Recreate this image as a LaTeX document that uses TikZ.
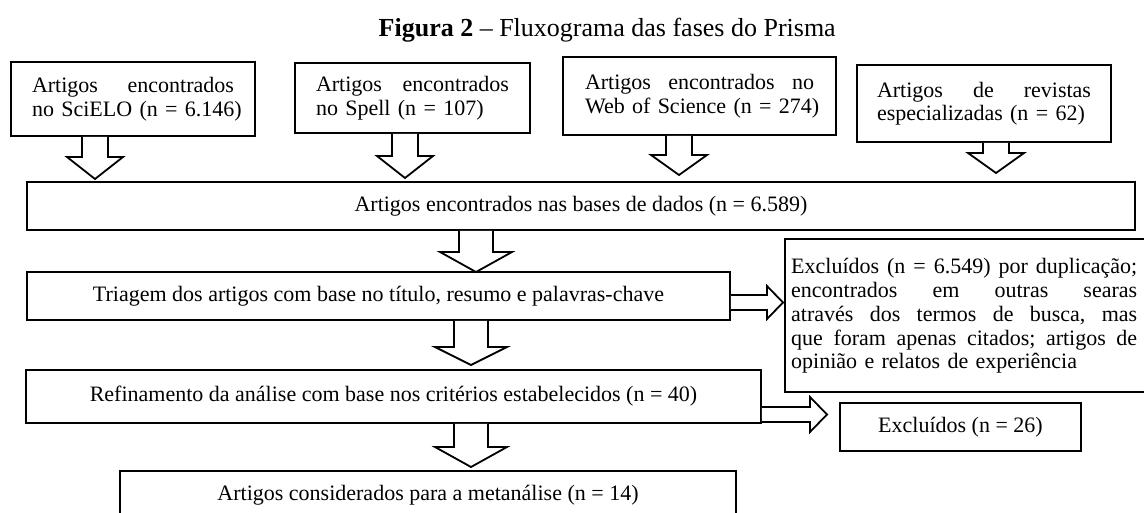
\documentclass[tikz,border=0pt]{standalone}
\usepackage{fontspec}
\setmainfont{Liberation Serif}
\tikzset{
  bx/.style={draw, line width=1.8pt, inner sep=0pt, font=\fontsize{22}{23.5}\selectfont},
  txt/.style={inner sep=0pt, font=\fontsize{22}{23.8}\selectfont},
  barrow/.style={draw, line width=1.8pt, fill=white, line join=miter},
}
\begin{document}
\begin{tikzpicture}[x=1pt,y=-1pt]
\useasboundingbox (0,0) rectangle (1144,513);
\clip (0,0) rectangle (1144,513);
% title
\node[inner sep=0pt, font=\fontsize{26}{29}\selectfont, anchor=base east] (title) at (836,37)
  {\textbf{Figura 2} – Fluxograma das fases do Prisma};
% first row
\node[bx, minimum width=244pt, minimum height=74pt, text width=202pt] (b1) at (133,99)
  {Artigos\hfill encontrados\\\mbox{no SciELO (n = 6.146)}};
\node[bx, minimum width=235pt, minimum height=70pt, text width=193pt] (b2) at (412.5,98)
  {Artigos\hfill encontrados\\\mbox{no Spell (n = 107)}};
\node[bx, minimum width=273pt, minimum height=78pt, text width=229pt] (b3) at (699.5,96)
  {Artigos\hfill encontrados\hfill no\\\mbox{Web of Science (n = 274)}};
\node[bx, minimum width=254pt, minimum height=77pt, text width=214pt] (b4) at (984,103.5)
  {Artigos\hfill de\hfill revistas\\\mbox{especializadas (n = 62)}};
% middle boxes
\node[bx, minimum width=1108pt, minimum height=48pt] (big) at (581,206)
  {Artigos encontrados nas bases de dados (n = 6.589)};
\node[bx, minimum width=703pt, minimum height=48pt] (tri) at (378.5,296)
  {Triagem dos artigos com base no título, resumo e palavras-chave};
\node[bx, minimum width=375pt, minimum height=153pt] (ex) at (972.5,315.5) {};
\node[txt, anchor=west, text width=346pt] (ext) at (791,316)
  {Excluídos\hfill (n\hfill =\hfill 6.549)\hfill por\hfill duplicação;\\
   encontrados\hfill em\hfill outras\hfill searas\\
   através\hfill dos\hfill termos\hfill de\hfill busca,\hfill mas\\
   que\hfill foram\hfill apenas\hfill citados;\hfill artigos\hfill de\\
   \mbox{opinião e relatos de experiência}};
\node[bx, minimum width=735pt, minimum height=53pt] (ref) at (393.5,396.5)
  {Refinamento da análise com base nos critérios estabelecidos (n = 40)};
\node[bx, minimum width=241pt, minimum height=48pt] (ex26) at (960.5,427)
  {Excluídos (n = 26)};
\node[bx, minimum width=616pt, minimum height=48pt] (fin) at (428,495)
  {Artigos considerados para a metanálise (n = 14)};
% block arrows, first row
\draw[barrow] (82,0 |- b1.south) -- (82,157) -- (67,157) -- (95,179) -- (123,157) -- (108,157) -- (108,0 |- b1.south);
\draw[barrow] (392,0 |- b2.south) -- (392,156) -- (377,156) -- (405,178) -- (433,156) -- (418,156) -- (418,0 |- b2.south);
\draw[barrow] (666,0 |- b3.south) -- (666,155) -- (651,155) -- (679,175) -- (707,155) -- (692,155) -- (692,0 |- b3.south);
\draw[barrow] (983,0 |- b4.south) -- (983,153) -- (968,153) -- (996,173) -- (1024,153) -- (1009,153) -- (1009,0 |- b4.south);
% block arrows, middle
\draw[barrow] (459,0 |- big.south) -- (459,252) -- (440,252) -- (476,272) -- (512,252) -- (493,252) -- (493,0 |- big.south);
\draw[barrow] (454,0 |- tri.south) -- (454,347) -- (435,347) -- (471,365) -- (507,347) -- (488,347) -- (488,0 |- tri.south);
\draw[barrow] (454,0 |- ref.south) -- (454,447) -- (435,447) -- (471,467) -- (507,447) -- (488,447) -- (488,0 |- ref.south);
% block arrows, to the right
\draw[barrow] (tri.east |- 0,295) -- (767,295) -- (767,286) -- (783,302.5) -- (767,319) -- (767,310) -- (tri.east |- 0,310);
\draw[barrow] (ref.east |- 0,407) -- (810,407) -- (810,397) -- (827,414.5) -- (810,432) -- (810,422) -- (ref.east |- 0,422);
\end{tikzpicture}
\end{document}
